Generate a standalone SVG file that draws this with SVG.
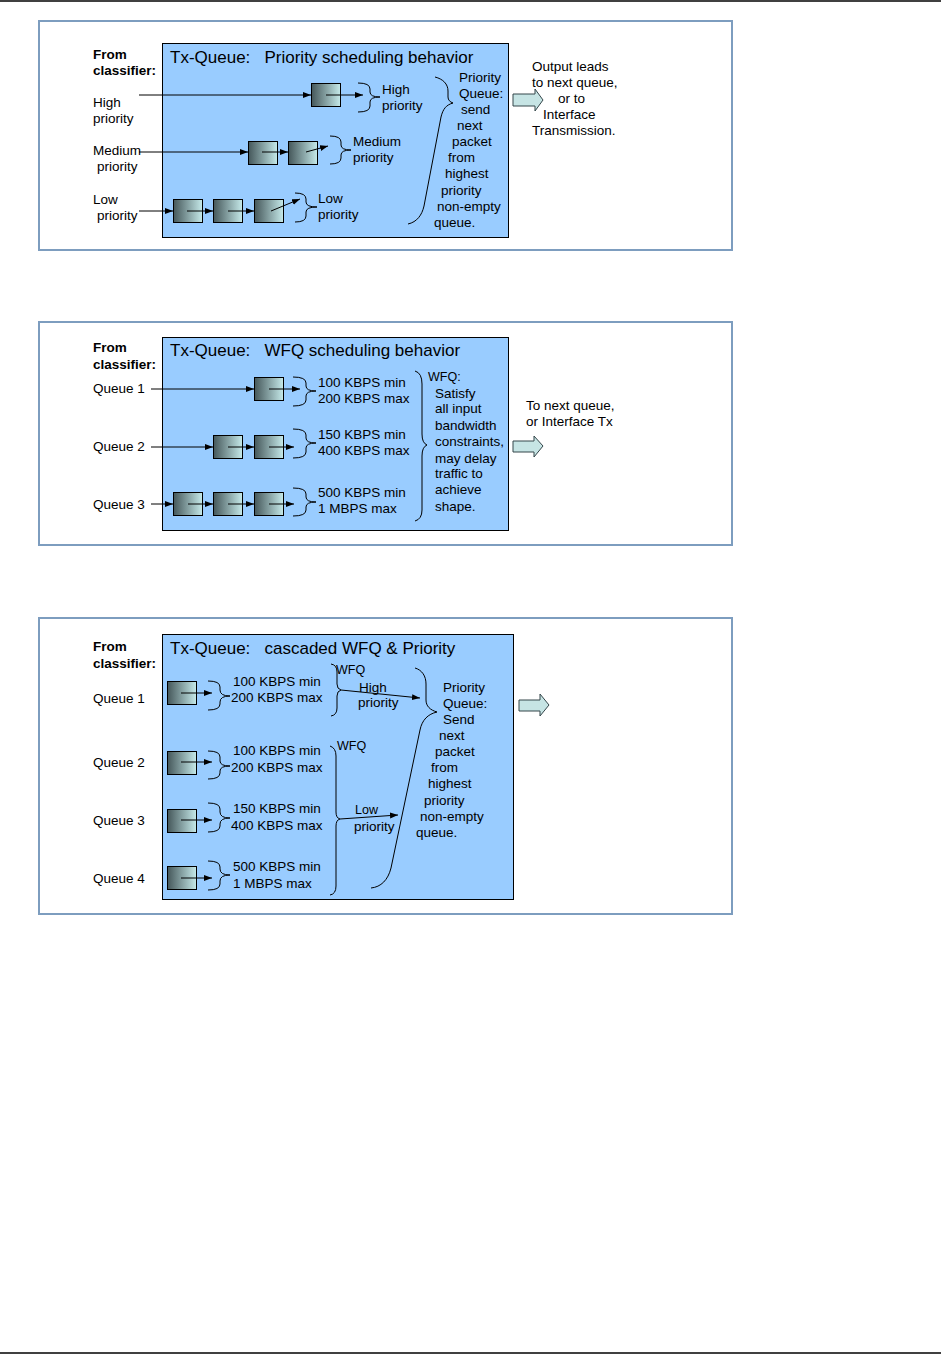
<svg xmlns="http://www.w3.org/2000/svg" width="941" height="1354" viewBox="0 0 941 1354">
<style>
text{font-family:"Liberation Sans",Arial,sans-serif;font-size:13.5px;fill:#000}
.t{font-size:17px;white-space:pre}
.b{font-weight:bold;font-size:13.5px}
.s{font-size:12.5px}
.frame{fill:#fff;stroke:#7d9dbf;stroke-width:2}
.panel{fill:#99ccff;stroke:#000;stroke-width:1}
.q{fill:url(#g);stroke:#000;stroke-width:1}
.ln{fill:none;stroke:#000;stroke-width:1}
.ar{fill:none;stroke:#000;stroke-width:1;marker-end:url(#ah)}
.br{fill:none;stroke:#000;stroke-width:1}
.out{fill:#c6e4e4;stroke:#34464a;stroke-width:1}
</style>
<defs>
<linearGradient id="g" x1="0" y1="0" x2="1" y2="0">
<stop offset="0" stop-color="#45575a"/>
<stop offset="1" stop-color="#c6eaea"/>
</linearGradient>
<marker id="ah" markerUnits="userSpaceOnUse" markerWidth="8" markerHeight="6" refX="8" refY="3" orient="auto">
<path d="M0,0 L8,3 L0,6 Z" fill="#000"/>
</marker>
</defs>
<rect width="941" height="1354" fill="#fff"/>
<line x1="0" y1="1" x2="941" y2="1" stroke="#000" stroke-width="1.5"/>
<line x1="0" y1="1353" x2="941" y2="1353" stroke="#000" stroke-width="1.5"/>

<!-- Panel 1 -->
<g id="panel1">
<rect class="frame" x="39" y="21" width="693" height="229"/>
<rect class="panel" x="162.5" y="43.5" width="346" height="194"/>
<text class="t" x="170" y="63" xml:space="preserve">Tx-Queue:   Priority scheduling behavior</text>
<text class="b" x="93" y="59">From</text>
<text class="b" x="93" y="75">classifier:</text>
<text x="93" y="107">High</text>
<text x="93" y="123">priority</text>
<text x="93" y="155">Medium</text>
<text x="97" y="171">priority</text>
<text x="93" y="204">Low</text>
<text x="97" y="220">priority</text>
</g>
<g id="p1-high">
<rect class="q" x="311.5" y="83.5" width="29" height="23"/>
<path class="br" d="M358,83 Q370,83 370,89 L370,92 Q370,97 380,97 Q370,97 370,102 L370,106 Q370,112 358,112"/>
<text x="382" y="94">High</text>
<text x="382" y="110">priority</text>
</g>
<g id="p1-medium">
<rect class="q" x="248.5" y="141.5" width="29" height="23"/>
<rect class="q" x="288.5" y="141.5" width="29" height="23"/>
<path class="br" d="M330,136 Q341,136 341,142 L341,145 Q341,150 351,150 Q341,150 341,155 L341,158 Q341,164 330,164"/>
<text x="353" y="146">Medium</text>
<text x="353" y="162">priority</text>
</g>
<g id="p1-low">
<rect class="q" x="173.5" y="199.5" width="29" height="23"/>
<rect class="q" x="213.5" y="199.5" width="29" height="23"/>
<rect class="q" x="254.5" y="199.5" width="29" height="23"/>
<path class="br" d="M295,193 Q306,193 306,199 L306,202 Q306,207 317,207 Q306,207 306,212 L306,216 Q306,222 295,222"/>
<text x="318" y="203">Low</text>
<text x="318" y="219">priority</text>
</g>
<g id="p1-scheduler">
<path class="br" d="M435,77 C443,79 448,84 448,91 L448,97 C448,100 450,102 453,103 C446,105 443,109 441,117 L424,206 C422,215 417,222 408,224"/>
<text x="459" y="82">Priority</text>
<text x="459" y="98">Queue:</text>
<text x="461" y="114">send</text>
<text x="457" y="130">next</text>
<text x="452" y="146">packet</text>
<text x="448" y="162">from</text>
<text x="445" y="178">highest</text>
<text x="441" y="195">priority</text>
<text x="437" y="211">non-empty</text>
<text x="434" y="227">queue.</text>
</g>
<g id="p1-output">
<path class="out" d="M513,94 L535,94 L535,89 L543,100 L535,111 L535,106 L513,106 Z"/>
<text x="532" y="71">Output leads</text>
<text x="532" y="87">to next queue,</text>
<text x="558" y="103">or to</text>
<text x="543" y="119">Interface</text>
<text x="532" y="135">Transmission.</text>
</g>

<!-- Panel 2 -->
<g id="panel2">
<rect class="frame" x="39" y="322" width="693" height="223"/>
<rect class="panel" x="162.5" y="337.5" width="346" height="193"/>
<text class="t" x="170" y="356" xml:space="preserve">Tx-Queue:   WFQ scheduling behavior</text>
<text class="b" x="93" y="352">From</text>
<text class="b" x="93" y="369">classifier:</text>
<text x="93" y="393">Queue 1</text>
<text x="93" y="451">Queue 2</text>
<text x="93" y="509">Queue 3</text>
</g>
<g id="p2-q1">
<rect class="q" x="254.5" y="377.5" width="29" height="23"/>
<path class="br" d="M293,377 Q306,377 306,383 L306,386 Q306,391 316,391 Q306,391 306,396 L306,400 Q306,406 293,406"/>
<text x="318" y="387">100 KBPS min</text>
<text x="318" y="403">200 KBPS max</text>
</g>
<g id="p2-q2">
<rect class="q" x="213.5" y="435.5" width="29" height="23"/>
<rect class="q" x="254.5" y="435.5" width="29" height="23"/>
<path class="br" d="M293,429 Q306,429 306,435 L306,438 Q306,443 316,443 Q306,443 306,448 L306,452 Q306,458 293,458"/>
<text x="318" y="439">150 KBPS min</text>
<text x="318" y="455">400 KBPS max</text>
</g>
<g id="p2-q3">
<rect class="q" x="173.5" y="492.5" width="29" height="23"/>
<rect class="q" x="213.5" y="492.5" width="29" height="23"/>
<rect class="q" x="254.5" y="492.5" width="29" height="23"/>
<path class="br" d="M293,488 Q306,488 306,494 L306,497 Q306,502 316,502 Q306,502 306,507 L306,510 Q306,516 293,516"/>
<text x="318" y="497">500 KBPS min</text>
<text x="318" y="513">1 MBPS max</text>
</g>
<g id="p2-scheduler">
<path class="br" d="M415,371 Q422,373 422,384 L422,434 Q422,443 427,445 Q422,447 422,456 L422,510 Q422,519 415,521"/>
<text class="s" x="428" y="381">WFQ:</text>
<text x="435" y="398">Satisfy</text>
<text x="435" y="413">all input</text>
<text x="435" y="430">bandwidth</text>
<text x="435" y="446">constraints,</text>
<text x="435" y="463">may delay</text>
<text x="435" y="478">traffic to</text>
<text x="435" y="494">achieve</text>
<text x="435" y="511">shape.</text>
</g>
<g id="p2-output">
<path class="out" d="M513,441 L534,441 L534,436 L543,446 L534,457 L534,452 L513,452 Z"/>
<text x="526" y="410">To next queue,</text>
<text x="526" y="426">or Interface Tx</text>
</g>

<!-- Panel 3 -->
<g id="panel3">
<rect class="frame" x="39" y="618" width="693" height="296"/>
<rect class="panel" x="162.5" y="634.5" width="351" height="265"/>
<text class="t" x="170" y="654" xml:space="preserve">Tx-Queue:   cascaded WFQ &amp; Priority</text>
<text class="b" x="93" y="651">From</text>
<text class="b" x="93" y="668">classifier:</text>
<text x="93" y="703">Queue 1</text>
<text x="93" y="767">Queue 2</text>
<text x="93" y="825">Queue 3</text>
<text x="93" y="883">Queue 4</text>
</g>
<g id="p3-q1">
<rect class="q" x="167.5" y="681.5" width="29" height="23"/>
<path class="br" d="M208,681 Q220,681 220,687 L220,690 Q220,696 230,696 Q220,696 220,702 L220,704 Q220,710 208,710"/>
<text x="233" y="686">100 KBPS min</text>
<text x="231" y="702">200 KBPS max</text>
</g>
<g id="p3-q2">
<rect class="q" x="167.5" y="751.5" width="29" height="23"/>
<path class="br" d="M208,751 Q220,751 220,757 L220,761 Q220,766 230,766 Q220,766 220,771 L220,773 Q220,779 208,779"/>
<text x="233" y="755">100 KBPS min</text>
<text x="231" y="772">200 KBPS max</text>
</g>
<g id="p3-q3">
<rect class="q" x="167.5" y="809.5" width="29" height="23"/>
<path class="br" d="M208,803 Q220,803 220,809 L220,812 Q220,818 230,818 Q220,818 220,824 L220,826 Q220,832 208,832"/>
<text x="233" y="813">150 KBPS min</text>
<text x="231" y="830">400 KBPS max</text>
</g>
<g id="p3-q4">
<rect class="q" x="167.5" y="866.5" width="29" height="23"/>
<path class="br" d="M208,861 Q220,861 220,867 L220,869 Q220,875 230,875 Q220,875 220,881 L220,884 Q220,890 208,890"/>
<text x="233" y="871">500 KBPS min</text>
<text x="233" y="888">1 MBPS max</text>
</g>
<g id="p3-wfq-high">
<path class="br" d="M331,664 Q337,665 337,672 L337,684 Q337,689 341,690 Q337,691 337,696 L337,708 Q337,715 331,716"/>
<text class="s" x="336" y="674">WFQ</text>
<text x="359" y="692">High</text>
<text x="358" y="707">priority</text>
</g>
<g id="p3-wfq-low">
<path class="br" d="M330,746 Q336,748 336,756 L336,812 Q336,818 340,819 Q336,820 336,826 L336,886 Q336,894 330,895"/>
<text class="s" x="337" y="750">WFQ</text>
<text class="s" x="355" y="814">Low</text>
<text x="354" y="831">priority</text>
</g>
<g id="p3-scheduler">
<path class="br" d="M415,668 C422,670 426,676 426,684 L426,700 C426,706 430,710 437,712 C428,714 422,720 420,730 L391,868 C388,880 381,887 371,888"/>
<text x="443" y="692">Priority</text>
<text x="443" y="708">Queue:</text>
<text x="443" y="724">Send</text>
<text x="439" y="740">next</text>
<text x="435" y="756">packet</text>
<text x="431" y="772">from</text>
<text x="428" y="788">highest</text>
<text x="424" y="805">priority</text>
<text x="420" y="821">non-empty</text>
<text x="416" y="837">queue.</text>
</g>
<g id="p3-output">
<path class="out" d="M519,700 L540,700 L540,694 L549,705 L540,716 L540,711 L519,711 Z"/>
</g>

<g id="connectors">
<path class="ar" d="M139,95 L311,95"/>
<path class="ar" d="M326,95 L363,95"/>
<path class="ar" d="M139,152 L248,152"/>
<path class="ar" d="M262,152 L288,152"/>
<path class="ar" d="M306,152 L328,146"/>
<path class="ar" d="M139,211 L173,211"/>
<path class="ar" d="M187,211 L213,211"/>
<path class="ar" d="M228,211 L254,211"/>
<path class="ar" d="M271,211 L300,199"/>
<path class="ar" d="M151,389 L254,389"/>
<path class="ar" d="M269,389 L300,389"/>
<path class="ar" d="M151,447 L213,447"/>
<path class="ar" d="M228,447 L254,447"/>
<path class="ar" d="M269,447 L294,447"/>
<path class="ar" d="M151,504 L173,504"/>
<path class="ar" d="M188,504 L213,504"/>
<path class="ar" d="M228,504 L254,504"/>
<path class="ar" d="M269,504 L294,504"/>
<path class="ar" d="M181,693 L212,693"/>
<path class="ar" d="M181,762 L212,762"/>
<path class="ar" d="M181,820 L212,820"/>
<path class="ar" d="M181,878 L212,878"/>
<path class="ar" d="M341,690 L420,698"/>
<path class="ar" d="M340,819 L398,815"/>
</g>
</svg>
